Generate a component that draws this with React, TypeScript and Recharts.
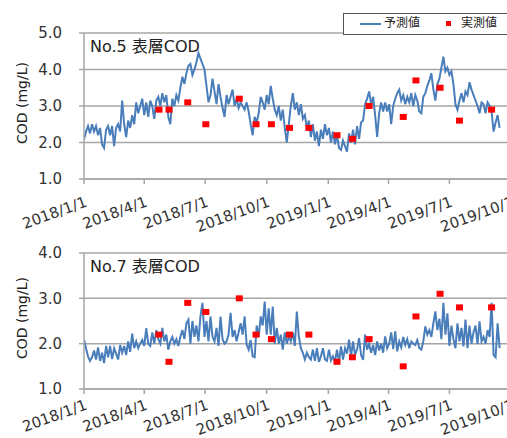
import { ComposedChart, Line, Scatter, XAxis, YAxis, CartesianGrid } from 'recharts';

// quarter ticks, counted in days from 2018/1/1
const TICK_DAYS = [0, 90, 181, 273, 365, 455, 546, 638];
const TICK_LABELS = ['2018/1/1', '2018/4/1', '2018/7/1', '2018/10/1', '2019/1/1', '2019/4/1', '2019/7/1', '2019/10/1'];

// simulated values are sampled every 3 days starting 2018/1/1
const PRED_STEP = 3;

const no5Pred = [
  2.08, 2.3, 2.45, 2.25, 2.5, 2.3, 2.45, 2.2, 2.4, 1.95,
  1.85, 2.35, 2.45, 2.2, 2.45, 1.9, 2.4, 2.5, 2.3, 3.15,
  2.5, 2.15, 2.6, 2.4, 2.75, 2.5, 3.1, 2.8, 3.0, 3.2,
  2.75, 3.1, 2.7, 3.15, 3.0, 2.65, 3.15, 3.25, 3.0, 3.35,
  3.1, 3.3, 2.7, 2.5, 3.2, 3.0, 3.3, 3.15, 3.5, 3.8,
  3.6, 3.9, 4.1, 4.15, 3.85, 4.0, 4.2, 4.45, 4.3, 4.15,
  4.0, 3.55, 3.1, 3.3, 3.75, 3.4, 3.05, 3.6, 3.25, 2.95,
  2.7, 3.3, 3.05, 3.25, 3.45, 3.0, 3.2, 2.95, 3.1, 3.0,
  2.9, 3.1, 2.85, 2.5, 2.2, 2.7, 2.55, 2.8, 3.25, 3.1,
  2.9, 3.3, 3.05, 3.55, 3.2, 2.9, 2.75, 3.0, 2.6, 2.9,
  2.4, 2.0, 2.5, 3.0, 3.35, 2.9, 3.1, 2.75, 3.05, 2.65,
  2.75, 2.4, 2.6, 2.15, 2.5, 2.05, 2.3, 1.9, 2.35, 2.1,
  2.5, 2.2, 2.4, 2.0, 2.3, 1.95, 2.2, 1.85, 1.8, 2.05,
  1.9, 1.75, 2.25, 2.0, 2.35, 1.95, 2.45, 2.1, 2.55, 2.6,
  3.05, 3.2, 3.4, 3.05, 3.25, 2.75, 2.15, 2.8, 3.1, 2.85,
  3.1, 2.85, 3.05, 2.5, 3.0, 3.2, 3.35, 3.45, 3.15, 3.3,
  3.05, 3.25, 3.1, 3.35, 3.0, 3.3, 3.15, 2.85, 2.8, 3.25,
  3.35, 3.55, 3.7, 3.9, 3.45, 3.15, 3.6, 3.75, 4.05, 4.35,
  3.95, 4.05, 3.85, 3.95, 3.6, 3.05, 2.9, 3.15, 3.35, 3.1,
  3.4, 3.3, 3.65, 3.45, 3.3, 3.15, 3.0, 2.8, 3.1, 3.05,
  2.8, 3.1, 3.0, 2.85, 2.3, 2.55, 2.75, 2.4,
];

const no7Pred = [
  2.09, 1.9, 1.72, 1.62, 1.7, 1.85, 1.65, 1.92, 1.62, 1.8,
  1.57, 1.95, 1.7, 1.95, 1.66, 1.9, 1.78, 1.65, 1.97, 1.8,
  1.95, 1.75, 2.05, 1.82, 2.22, 1.9, 2.05, 1.9, 2.0, 2.08,
  1.95, 2.34, 2.0, 1.95, 2.25, 2.0, 2.3, 2.1, 2.0, 2.35,
  2.05, 2.2, 1.87, 2.05, 2.15, 2.0, 2.1, 1.95, 2.15, 2.3,
  2.1, 2.45, 2.53, 2.0, 2.5, 2.15, 2.4, 2.05, 2.6, 2.9,
  2.15, 2.5, 2.05, 2.6, 2.15, 2.05, 2.35, 1.95, 2.6,
  2.1, 2.0, 2.05, 2.2, 2.68, 2.15, 2.3, 2.05, 2.25, 2.45,
  2.2, 2.6, 1.98, 1.87, 2.08, 1.72, 1.7, 2.4, 2.15, 2.6,
  2.4, 2.93, 2.2, 2.78, 2.2, 2.82, 2.0, 2.35, 2.0, 2.2,
  1.87, 2.25, 2.0, 2.16, 2.05, 2.25, 1.95, 2.71, 2.16, 1.9,
  1.8, 1.65, 1.8, 1.7, 1.65, 1.87, 1.62, 1.9, 1.6, 1.72,
  1.9, 1.65, 1.62, 1.87, 1.63, 1.72, 1.6, 1.87, 1.6, 1.94,
  1.65, 1.9, 1.78, 2.09, 1.72, 2.05, 1.75, 1.87, 2.12, 1.75,
  1.64, 2.2, 1.87, 2.0, 1.8, 1.97, 1.75, 2.05, 1.85, 2.0,
  1.8, 2.16, 1.9, 2.0, 2.25, 1.88, 2.27, 1.83, 2.05, 1.92,
  2.15, 1.97, 2.1, 1.9, 2.05, 2.0, 1.97, 2.08, 1.9, 1.87,
  2.05, 2.38, 2.2, 2.3, 2.15, 2.45, 2.71, 2.3, 2.55, 2.1,
  2.9, 2.2, 2.67, 1.95, 2.4, 2.1, 1.9, 2.45, 2.05, 2.35,
  1.94, 2.53, 1.9, 2.4, 2.0, 2.25, 2.4, 1.99, 2.49, 2.05,
  2.15, 2.0, 2.3, 2.15, 2.9, 1.75, 1.7, 2.45, 1.9,
];

// field survey days (days from 2018/1/1) and measured COD
const OBS_DAYS = [112, 127, 155, 182, 232, 257, 280, 307, 336, 378, 401, 426, 477, 496, 532, 561, 609];
const no5Obs = [2.9, 2.9, 3.1, 2.5, 3.2, 2.5, 2.5, 2.4, 2.4, 2.2, 2.1, 3.0, 2.7, 3.7, 3.5, 2.6, 2.9];
const no7Obs = [2.2, 1.6, 2.9, 2.7, 3.0, 2.2, 2.1, 2.2, 2.2, 1.6, 1.7, 2.1, 1.5, 2.6, 3.1, 2.8, 2.8];

const FONT = '"DejaVu Sans", "Noto Sans CJK JP", sans-serif';
const BLUE = '#4a7ebb';
const GRID = '#a6a6a6';

const toRows = (vals: number[]) => vals.map((v, i) => ({ day: i * PRED_STEP, value: v }));
const toObs = (vals: number[]) => vals.map((v, i) => ({ day: OBS_DAYS[i], value: v }));

function DateTick(props: any) {
  const { x, y, payload, dy } = props;
  const i = TICK_DAYS.indexOf(payload.value);
  const ax = x + 4;
  const ay = y + dy;
  return (
    <text x={ax} y={ay} textAnchor="end" fontSize={15} fill="#333" fontFamily={FONT}
      transform={`rotate(-20 ${ax} ${ay})`}>
      {TICK_LABELS[i]}
    </text>
  );
}

const RedSquare = (p: any) => <rect x={p.cx - 3.5} y={p.cy - 3} width={7} height={6} fill="#ff0000" />;

function YTitle(props: any) {
  const vb = props.viewBox;
  const cx = 22;
  const cy = vb.y + vb.height / 2 - 3;
  return (
    <text x={cx} y={cy} textAnchor="middle" dominantBaseline="central" fontSize={14} fill="#222"
      fontFamily={FONT} transform={`rotate(-90 ${cx} ${cy})`}>
      COD (mg/L)
    </text>
  );
}

type PanelProps = {
  title: string;
  pred: number[];
  obs: number[];
  yTicks: number[];
  top: number;
  height: number;
  bottom: number;
  labelDy: number;
};

function Panel({ title, pred, obs, yTicks, top, height, bottom, labelDy }: PanelProps) {
  return (
    <div style={{ position: 'absolute', left: 0, top, width: 540, height }}>
      <ComposedChart width={540} height={height} margin={{ top: 33, right: 29, left: 20, bottom }}>
        <CartesianGrid vertical={false} stroke={GRID} strokeWidth={1.5} />
        <XAxis dataKey="day" type="number" domain={[0, 638]} ticks={TICK_DAYS} interval={0}
          allowDataOverflow height={40} tickSize={5} tickMargin={0}
          axisLine={{ stroke: GRID, strokeWidth: 1.5 }} tickLine={{ stroke: GRID, strokeWidth: 1.5 }}
          tick={<DateTick dy={labelDy} />} />
        <YAxis type="number" domain={[yTicks[0], yTicks[yTicks.length - 1]]} ticks={yTicks} interval={0}
          width={64} tickSize={5} tickMargin={17} tickFormatter={(v: number) => v.toFixed(1)}
          tick={{ fontSize: 15, fill: '#333', fontFamily: FONT }}
          axisLine={{ stroke: GRID, strokeWidth: 1.5 }} tickLine={{ stroke: GRID, strokeWidth: 1.5 }}
          label={(p: any) => <YTitle {...p} />} />
        <Line data={toRows(pred)} dataKey="value" stroke={BLUE} strokeWidth={2} dot={false}
          isAnimationActive={false} />
        <Scatter data={toObs(obs)} dataKey="value" shape={RedSquare} isAnimationActive={false} />
      </ComposedChart>
      <div style={{ position: 'absolute', left: 90, top: 39, fontSize: 16, lineHeight: 1, color: '#222', fontFamily: FONT }}>
        {title}
      </div>
    </div>
  );
}

function LegendBox() {
  return (
    <div style={{
      position: 'absolute', left: 343, top: 13, width: 170, height: 20, border: '1px solid #555',
      background: '#fff', fontFamily: FONT, fontSize: 12, color: '#222',
    }}>
      <div style={{ position: 'absolute', left: 16, top: 9, width: 21, height: 2, background: BLUE }} />
      <div style={{ position: 'absolute', left: 40, top: 3, lineHeight: 1 }}>予測値</div>
      <div style={{ position: 'absolute', left: 102, top: 7, width: 5, height: 5, background: '#ff0000' }} />
      <div style={{ position: 'absolute', left: 117, top: 3, lineHeight: 1 }}>実測値</div>
    </div>
  );
}

export default function App() {
  return (
    <div style={{ position: 'absolute', left: 0, top: 0, width: 507, height: 438, overflow: 'hidden', background: '#fff' }}>
      <Panel title="No.5 表層COD" pred={no5Pred} obs={no5Obs} yTicks={[1, 2, 3, 4, 5]}
        top={0} height={240} bottom={21} labelDy={22} />
      <Panel title="No.7 表層COD" pred={no7Pred} obs={no7Obs} yTicks={[1, 2, 3, 4]}
        top={220} height={218} bottom={9} labelDy={15} />
      <LegendBox />
    </div>
  );
}
